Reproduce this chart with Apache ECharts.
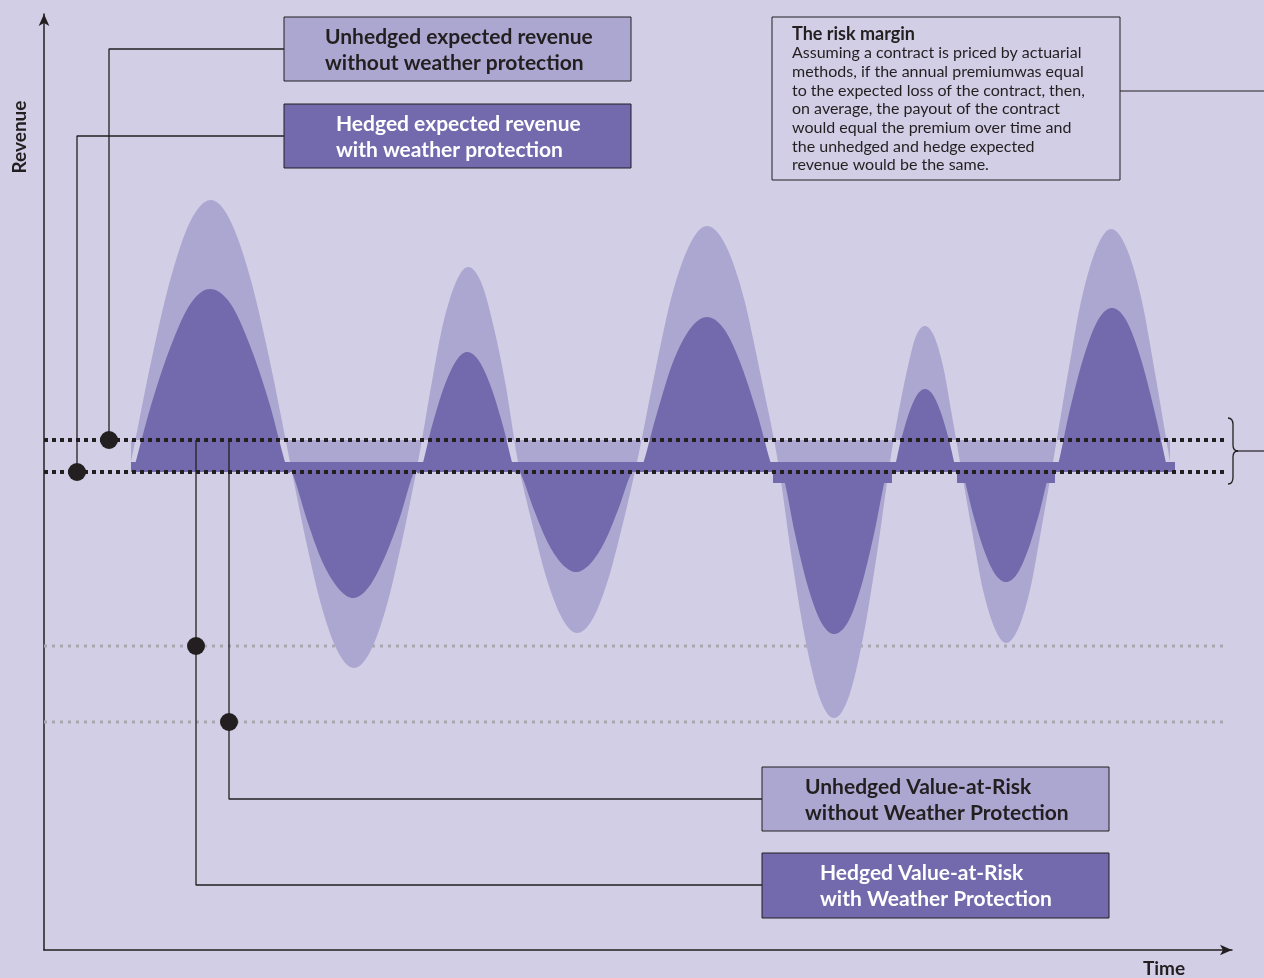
<!DOCTYPE html>
<html>
<head>
<meta charset="utf-8">
<script src="https://cdn.jsdelivr.net/npm/echarts@6/dist/echarts.min.js"></script>
<style>
html,body{margin:0;padding:0;background:#d2cee6;}
#chart{width:1264px;height:978px;}
</style>
</head>
<body>
<div id="chart"></div>
<script>
// ---- Data (time units, revenue units) ----
const unhedgedRevenue = [
  [87,488],[107,588],[127,673],[147,730],[167,750],[186,730],[206,673],[226,588],[246,488],
  [262,409],[278,342],[294,298],[310,282],[326,298],[342,342],[358,409],[374,488],
  [387,563],[399,626],[412,668],[424,683],[437,668],[449,626],[462,563],[474,488],
  [489,423],[504,367],[519,330],[533,317],[548,330],[563,367],[578,423],[593,488],
  [611,578],[628,655],[646,706],[663,724],[681,706],[699,655],[716,578],[734,488],
  [748,390],[762,307],[776,251],[790,232],[804,251],[818,307],[832,390],[846,488],
  [855,540],[864,584],[872,614],[881,624],[890,614],[899,584],[907,540],[916,488],
  [928,419],[939,360],[951,321],[962,307],[974,321],[986,360],[997,419],[1009,488],
  [1024,577],[1038,653],[1053,703],[1067,721],[1082,703],[1097,653],[1111,577],[1126,488]
];
const hedgedRevenue = [
  [89,478],[108,548],[128,607],[147,647],[166,661],[186,647],[205,607],[225,548],[244,478],
  [248,478],[263,430],[278,389],[294,362],[309,352],[324,362],[339,389],[355,430],[370,478],
  [376,478],[388,524],[400,563],[412,589],[423,598],[435,589],[447,563],[459,524],[471,478],
  [476,478],[490,440],[504,407],[518,386],[532,378],[546,386],[560,407],[574,440],[588,478],
  [596,478],[613,537],[629,588],[646,621],[663,633],[680,621],[696,588],[713,537],[730,478],
  [738,478],[751,416],[764,363],[777,328],[790,316],[804,328],[817,363],[830,416],[843,478],
  [849,478],[857,510],[865,537],[873,555],[881,561],[889,555],[897,537],[905,510],[913,478],
  [918,478],[929,436],[940,400],[951,376],[962,368],[973,376],[984,400],[995,436],[1006,478],
  [1012,478],[1026,541],[1040,594],[1054,630],[1068,642],[1082,630],[1096,594],[1110,541],[1124,478]
];
// hedge premium band segments: [t0, t1, revenueLow, revenueHigh]
const hedgeBand = [[87,1131,478,488],[729,848,467,478],[913,1011,467,478]];
const unhedgedExpected = 510;
const hedgedExpected = 478;
const hedgedVaR = 304;
const unhedgedVaR = 228;
const levelSpan = [0, 1181];

const labelUnhedgedExp = ['Unhedged expected revenue','without weather protection'];
const labelHedgedExp = ['Hedged expected revenue','with weather protection'];
const labelUnhedgedVaR = ['Unhedged Value-at-Risk','without Weather Protection'];
const labelHedgedVaR = ['Hedged Value-at-Risk','with Weather Protection'];
const riskTitle = 'The risk margin';
const riskBody = [
  'Assuming a contract is priced by actuarial',
  'methods, if the annual premiumwas equal',
  'to the expected loss of the contract, then,',
  'on average, the payout of the contract',
  'would equal the premium over time and',
  'the unhedged and hedge expected',
  'revenue would be the same.'
];
const axisNames = ['Time','Revenue'];

// ---- Styling ----
const BG = '#d2cee6', LIGHT = '#aca7d0', DARK = '#7369ad', INK = '#231f20', GREY = '#a9a7b0';
const FONT = 'Lato, "Open Sans", sans-serif';

function levelLine(y, color, width, dash, z){
  return {type:'line', data:[[levelSpan[0],y],[levelSpan[1],y]], symbol:'none', silent:true, z:z,
    lineStyle:{color:color, width:width, type:dash, cap:'butt'}};
}
function connector(pts){
  return {type:'line', data:pts, symbol:'none', silent:true, z:6,
    lineStyle:{color:INK, width:1.3}};
}
// smooth filled area between the curve and a reference level (cubic Hermite through the points, in pixel space)
function smoothArea(arr, origin, color, z){
  return {type:'custom', data:arr, z:z, silent:true, encode:{x:0, y:1},
    renderItem:function(params, api){
      if (params.dataIndexInside !== 0) return null;
      const n = params.dataInsideLength;
      const P = [];
      for (let i=0;i<n;i++) P.push(api.coord([api.value(0,i), api.value(1,i)]));
      const m = P.map((p,i)=>{
        const a = P[Math.max(0,i-1)], b = P[Math.min(n-1,i+1)];
        return (b[1]-a[1])/((b[0]-a[0])||1);
      });
      const pts = [];
      const STEPS = 10;
      for (let i=0;i<n-1;i++){
        const x0=P[i][0], y0=P[i][1], x1=P[i+1][0], y1=P[i+1][1], h=x1-x0;
        for (let k=0;k<STEPS;k++){
          const t=k/STEPS, t2=t*t, t3=t2*t;
          const y = (2*t3-3*t2+1)*y0 + (t3-2*t2+t)*h*m[i] + (-2*t3+3*t2)*y1 + (t3-t2)*h*m[i+1];
          pts.push([x0+h*t, y]);
        }
      }
      pts.push(P[n-1]);
      const base = api.coord([0, origin])[1];
      pts.push([P[n-1][0], base]);
      pts.push([P[0][0], base]);
      return {type:'polygon', shape:{points:pts}, style:{fill:color}};
    }};
}

const chart = echarts.init(document.getElementById('chart'));
const g = [];
function box(x,y,w,h,fill,lines,tx,color){
  g.push({type:'rect', shape:{x:x,y:y,width:w,height:h}, style:{fill:fill, stroke:INK, lineWidth:1}, z:100});
  lines.forEach((t,i)=>{
    g.push({type:'text', x:tx, y:y+20+i*26, z:101,
      style:{text:t, fill:color, fontFamily:FONT, fontWeight:'bold', fontSize:21, textVerticalAlign:'middle'}});
  });
}
box(284,17,347,64,LIGHT,labelUnhedgedExp,325,INK);
box(284,104,347,64,DARK,labelHedgedExp,336,'#ffffff');
box(762,767,347,64,LIGHT,labelUnhedgedVaR,805,INK);
box(762,853,347,65,DARK,labelHedgedVaR,820,'#ffffff');
// risk margin box
g.push({type:'rect', shape:{x:772,y:17,width:348,height:163}, style:{fill:'rgba(0,0,0,0)', stroke:INK, lineWidth:1}, z:100});
g.push({type:'text', x:792, y:34, z:101, style:{text:riskTitle, fill:INK, fontFamily:FONT, fontWeight:'bold', fontSize:18, textVerticalAlign:'middle'}});
riskBody.forEach((t,i)=>{
  g.push({type:'text', x:792, y:53+i*18.7, z:101, style:{text:t, fill:INK, fontFamily:FONT, fontSize:16, textVerticalAlign:'middle'}});
});
g.push({type:'line', shape:{x1:1120,y1:91,x2:1264,y2:91}, style:{stroke:INK, lineWidth:1.2}, z:100});
// brace
const braceStyle = {stroke:INK, lineWidth:1.3, fill:null};
g.push({type:'bezierCurve', z:100, shape:{x1:1228,y1:418,x2:1233,y2:425,cpx1:1233,cpy1:418}, style:braceStyle});
g.push({type:'line', z:100, shape:{x1:1233,y1:425,x2:1233,y2:445}, style:braceStyle});
g.push({type:'bezierCurve', z:100, shape:{x1:1233,y1:445,x2:1238,y2:451,cpx1:1233,cpy1:451}, style:braceStyle});
g.push({type:'bezierCurve', z:100, shape:{x1:1238,y1:451,x2:1233,y2:457,cpx1:1233,cpy1:451}, style:braceStyle});
g.push({type:'line', z:100, shape:{x1:1233,y1:457,x2:1233,y2:477}, style:braceStyle});
g.push({type:'bezierCurve', z:100, shape:{x1:1233,y1:477,x2:1228,y2:484,cpx1:1233,cpy1:484}, style:braceStyle});
g.push({type:'line', shape:{x1:1237,y1:451,x2:1264,y2:451}, style:{stroke:INK, lineWidth:1.2}, z:100});
// axis names
g.push({type:'text', x:1164, y:969, z:101, style:{text:axisNames[0], fill:INK, fontFamily:FONT, fontWeight:'bold', fontSize:19, textAlign:'center', textVerticalAlign:'middle'}});
g.push({type:'text', x:20, y:137, rotation:Math.PI/2, z:101, style:{text:axisNames[1], fill:INK, fontFamily:FONT, fontWeight:'bold', fontSize:19, textAlign:'center', textVerticalAlign:'middle'}});

const option = {
  backgroundColor: BG,
  animation: false,
  grid: {left:44, top:14, width:1188, height:936, containLabel:false},
  xAxis: {type:'value', min:0, max:1188, axisLabel:{show:false}, axisTick:{show:false}, splitLine:{show:false},
    axisLine:{show:true, onZero:false, symbol:['none','arrow'], symbolSize:[8,12], lineStyle:{color:INK, width:1.5}}},
  yAxis: {type:'value', min:0, max:936, axisLabel:{show:false}, axisTick:{show:false}, splitLine:{show:false},
    axisLine:{show:true, onZero:false, symbol:['none','arrow'], symbolSize:[8,12], lineStyle:{color:INK, width:1.5}}},
  graphic: g,
  series: [
    levelLine(hedgedVaR, GREY, 3, [3,5], 1),
    levelLine(unhedgedVaR, GREY, 3, [3,5], 1),
    smoothArea(unhedgedRevenue, unhedgedExpected, LIGHT, 2),
    smoothArea(hedgedRevenue, hedgedExpected, DARK, 3),
    {type:'custom', data:hedgeBand, z:4, silent:true, encode:{x:[0,1], y:[2,3]},
      renderItem:function(params, api){
        const p0 = api.coord([api.value(0), api.value(3)]);
        const p1 = api.coord([api.value(1), api.value(2)]);
        return {type:'rect', shape:{x:p0[0], y:p0[1], width:p1[0]-p0[0], height:p1[1]-p0[1]}, style:{fill:DARK}};
      }},
    levelLine(unhedgedExpected, INK, 4, [4,4], 5),
    levelLine(hedgedExpected, INK, 4, [4,4], 5),
    connector([[65,unhedgedExpected],[65,901],[240,901]]),
    connector([[33,hedgedExpected],[33,814],[240,814]]),
    connector([[185,unhedgedExpected],[185,151],[718,151]]),
    connector([[152,unhedgedExpected],[152,65],[718,65]]),
    {type:'scatter', symbolSize:18, silent:true, z:7, itemStyle:{color:INK, opacity:1},
      data:[[65,unhedgedExpected],[33,hedgedExpected],[152,hedgedVaR],[185,unhedgedVaR]]}
  ]
};
chart.setOption(option);
</script>
</body>
</html>
